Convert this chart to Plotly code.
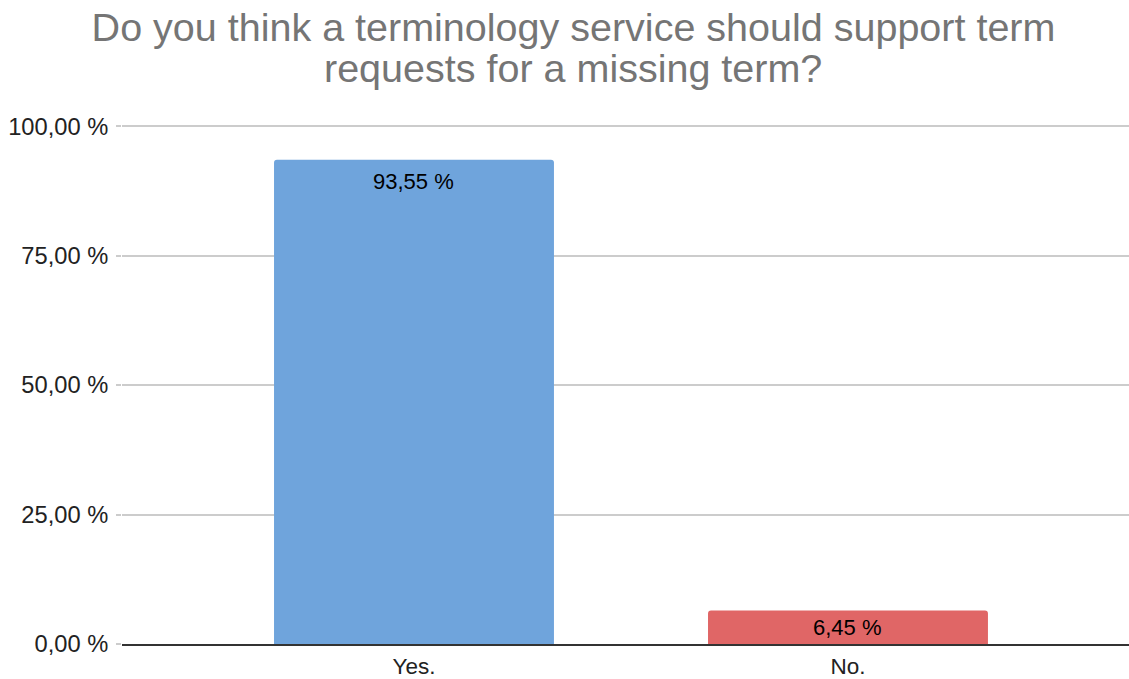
import plotly.graph_objects as go

categories = ["Yes.", "No."]
values = [93.55, 6.45]
colors = ["#6fa4dc", "#e06666"]
tick_vals = [0, 25, 50, 75, 100]
tick_text = ["0,00 %", "25,00 %", "50,00 %", "75,00 %", "100,00 %"]
labels = ["93,55 %", "6,45 %"]
title_lines = ["Do you think a terminology service should support term",
               "requests for a missing term?"]

FONT = "Liberation Sans, Arial, sans-serif"
H = 679
BOT = 644
PX_PER_UNIT = 5.18
YMAX = 100.25
TOP = BOT - PX_PER_UNIT * YMAX

def paper_y(px):
    return (BOT - px) / (BOT - TOP)

fig = go.Figure(go.Bar(
    x=categories, y=values, marker=dict(color=colors, cornerradius=3, line=dict(width=0)),
    width=0.645, hoverinfo="skip",
))
for cat, val, lab in zip(categories, values, labels):
    bar_px = val * PX_PER_UNIT
    fig.add_annotation(x=cat, y=val, text=lab, showarrow=False, xanchor="center",
                       yanchor="middle", yshift=-min(22, bar_px / 2),
                       font=dict(family=FONT, size=22, color="#000000"))

fig.update_layout(
    width=1129, height=H,
    paper_bgcolor="white", plot_bgcolor="white",
    margin=dict(l=122, r=0, t=TOP, b=H - BOT, autoexpand=False),
    title=dict(text=title_lines[0], x=0.508, xanchor="center",
               yref="container", y=1 - 27 / H, yanchor="middle",
               font=dict(family=FONT, size=39.5, color="#757575")),
    font=dict(family=FONT, size=22, color="#222222"),
    showlegend=False,
)
fig.add_annotation(text=title_lines[1], xref="paper", yref="paper", x=(573 - 122) / 1007,
                   y=paper_y(67.5), xanchor="center", yanchor="middle", showarrow=False,
                   font=dict(family=FONT, size=39.5, color="#757575"))
fig.update_xaxes(range=[-0.6728, 1.6475], showgrid=False, showline=True, linecolor="#333333",
                 linewidth=1.5, ticks="", ticklabelstandoff=1, automargin=False,
                 tickfont=dict(family=FONT, size=22.5, color="#222222"))
fig.update_yaxes(range=[0, YMAX], tickvals=tick_vals, ticktext=tick_text, showgrid=True,
                 gridcolor="#cccccc", gridwidth=1.5, zeroline=False, showline=False,
                 ticks="outside", ticklen=5, tickcolor="#cccccc", tickwidth=1.5, automargin=False,
                 ticklabelstandoff=3, tickfont=dict(family=FONT, size=23.7, color="#222222"))

fig.write_html("out.html", config={"displayModeBar": False},
               post_script="document.body.style.margin='0';document.body.style.overflow='hidden';")
